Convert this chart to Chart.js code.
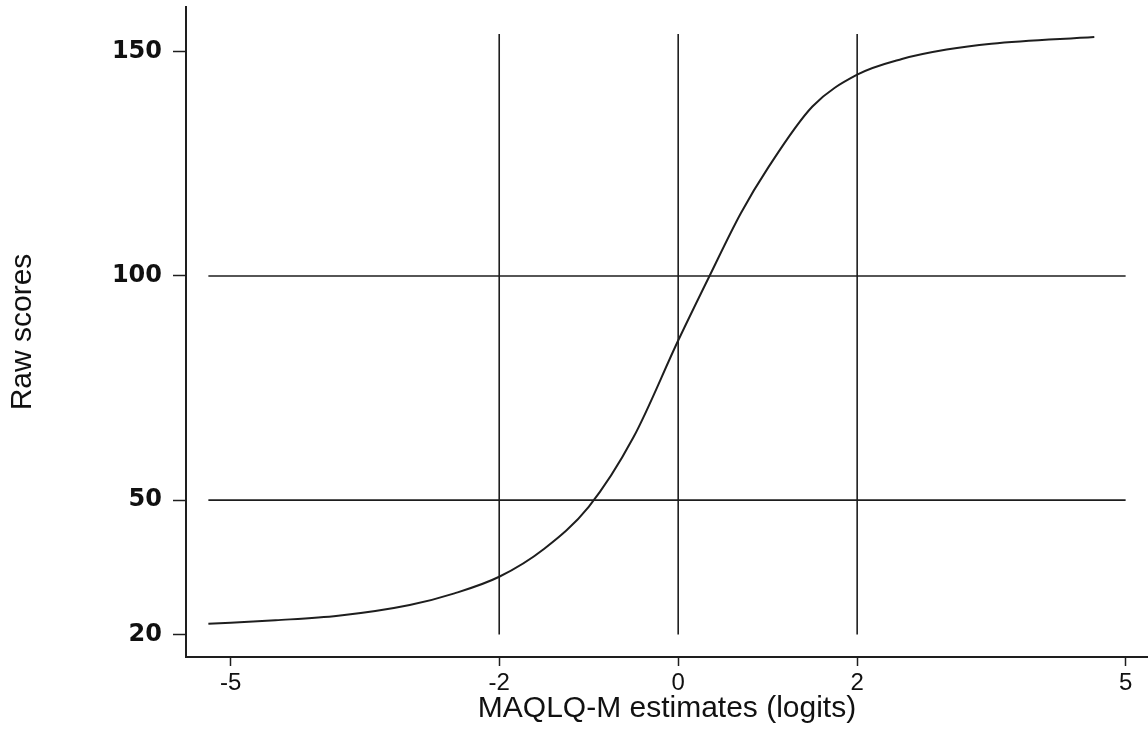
<!DOCTYPE html>
<html>
<head>
<meta charset="utf-8">
<script src="https://cdn.jsdelivr.net/npm/chart.js@4.4.1/dist/chart.umd.min.js"></script>
<style>
    body { margin: 0; background: #fff; }
    canvas { display: block; }
</style>
</head>
<body>
<canvas id="charCurve" width="1148" height="730"></canvas>
<script>
// values
const logits = [-5.25, -4.5, -3.8, -3, -2.5, -2, -1.5, -1, -0.5, 0, 0.35, 0.7, 1.0, 1.5, 2, 2.5, 3, 3.5, 4.65];
const rawScores = [22.4, 23.2, 24.2, 26.6, 29.2, 32.9, 39.1, 48.5, 64, 85.6, 100, 114, 124, 137.8, 144.9, 148.4, 150.5, 151.8, 153.3];

const xTicks = [-5, -2, 0, 2, 5];
const yTicks = [20, 50, 100, 150];

// reference lines drawn across the plot
const vLines = [-2, 0, 2];
const vLineSpan = [20, 154];
const hLines = [50, 100];
const hLineSpan = [-5.25, 5];

const ink = '#1e1e1e';

function refLine(points) {
    return {
        data: points,
        borderColor: ink,
        borderWidth: 1.6,
        pointRadius: 0,
        tension: 0
    };
}

function charCurve() {
    const curve = logits.map((x, i) => {
        return { x: x, y: rawScores[i] };
    });

    const datasets = [{
        data: curve,
        borderColor: ink,
        borderWidth: 2,
        pointRadius: 0,
        cubicInterpolationMode: 'monotone'
    }];
    vLines.forEach((x) => {
        datasets.push(refLine(vLineSpan.map((y) => ({ x: x, y: y }))));
    });
    hLines.forEach((y) => {
        datasets.push(refLine(hLineSpan.map((x) => ({ x: x, y: y }))));
    });

    const ctx = document.getElementById('charCurve');
    const chart = new Chart(ctx, {
        type: 'line',
        data: { datasets: datasets },
        options: {
            responsive: false,
            animation: false,
            devicePixelRatio: 1,
            layout: { padding: { top: 7, right: 0, bottom: 0, left: 0 } },
            plugins: {
                legend: { display: false },
                tooltip: { enabled: false }
            },
            scales: {
                x: {
                    type: 'linear',
                    min: -5.5,
                    max: 5.25,
                    afterBuildTicks: (scale) => {
                        scale.ticks = xTicks.map((v) => ({ value: v }));
                    },
                    afterFit: (scale) => {
                        scale.height = 73;
                        scale.paddingLeft = 0;
                        scale.paddingRight = 0;
                    },
                    grid: {
                        drawOnChartArea: false,
                        drawTicks: true,
                        tickLength: 9,
                        tickColor: ink,
                        tickWidth: 1.5
                    },
                    border: { display: true, color: ink, width: 2 },
                    ticks: {
                        color: '#111',
                        padding: 3,
                        maxRotation: 0,
                        autoSkip: false,
                        font: { family: 'Liberation Sans', size: 24 }
                    },
                    title: {
                        display: true,
                        text: 'MAQLQ-M estimates (logits)',
                        color: '#111',
                        padding: { top: 0, bottom: 3 },
                        font: { family: 'Liberation Sans', size: 30 }
                    }
                },
                y: {
                    min: 15,
                    max: 160,
                    afterBuildTicks: (scale) => {
                        scale.ticks = yTicks.map((v) => ({ value: v }));
                    },
                    afterFit: (scale) => {
                        scale.width = 186;
                        scale.paddingTop = 0;
                        scale.paddingBottom = 0;
                    },
                    grid: {
                        drawOnChartArea: false,
                        drawTicks: true,
                        tickLength: 13,
                        tickColor: ink,
                        tickWidth: 1.5
                    },
                    border: { display: true, color: ink, width: 2 },
                    ticks: {
                        color: '#111',
                        padding: 11,
                        autoSkip: false,
                        font: { family: 'DejaVu Sans', size: 24, weight: '600' }
                    },
                    title: {
                        display: true,
                        text: 'Raw scores',
                        color: '#111',
                        padding: { top: 5, bottom: 0 },
                        font: { family: 'Liberation Sans', size: 30 }
                    }
                }
            }
        }
    });
}
charCurve();
</script>
</body>
</html>
